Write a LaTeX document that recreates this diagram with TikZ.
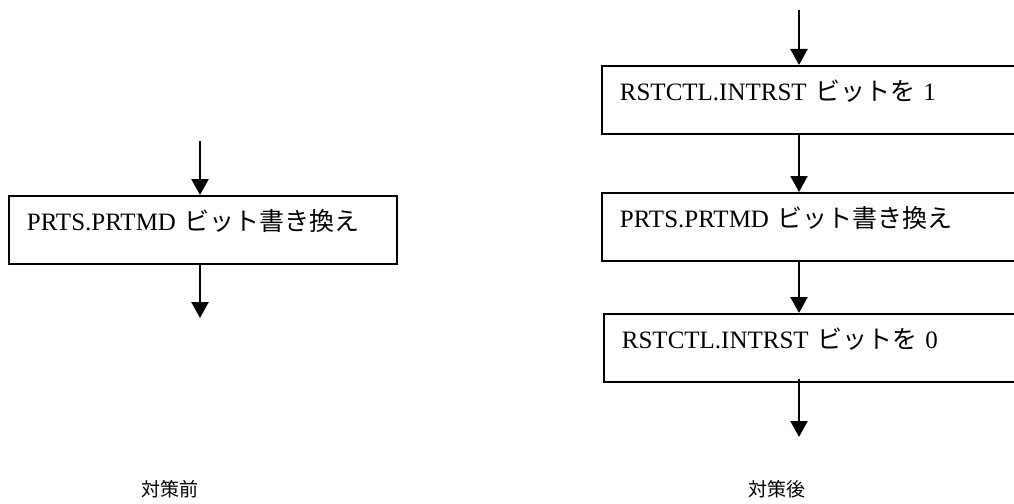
\documentclass[tikz,border=0pt]{standalone}
\usepackage{fontspec}
\setmainfont{Liberation Serif}
\newfontfamily\jp{Noto Sans CJK JP}
\usetikzlibrary{arrows.meta}
\tikzset{
  stepbox/.style={draw, line width=1.8pt, anchor=north west, align=left,
    inner xsep=18pt, inner ysep=0pt, text height=35pt, text depth=33pt,
    font=\fontsize{25}{28}\selectfont},
  flow/.style={line width=2.5pt, -{Triangle[length=16pt,width=17pt]}},
  caption/.style={font=\jp\fontsize{19}{22}\selectfont}
}
\begin{document}
\begin{tikzpicture}[x=1pt,y=-1pt]
\useasboundingbox (0,0) rectangle (1014,503);
\clip (0,0) rectangle (1014,503);
% left: before
\coordinate (L0) at (200,141);
\node[stepbox, text width=352pt] (L) at (8,195) {PRTS.PRTMD {\jp ビット書き換え}};
\coordinate (L1) at (200,318);
\draw[flow] (L0) -- (L0 |- L.north);
\draw[flow] ([yshift=2pt]L0 |- L.south) -- (L1);
\node[caption] (capL) at (170,489) {対策前};
% right: after
\coordinate (R0) at (799,10);
\node[stepbox, text width=384pt] (R1) at (601,65) {RSTCTL.INTRST {\jp ビットを} 1};
\node[stepbox, text width=384pt] (R2) at (601,192) {PRTS.PRTMD {\jp ビット書き換え}};
\node[stepbox, text width=382pt] (R3) at (603,313) {RSTCTL.INTRST {\jp ビットを} 0};
\coordinate (R4) at (799,437);
\draw[flow] (R0) -- (R0 |- R1.north);
\draw[flow] (R0 |- R1.south) -- (R0 |- R2.north);
\draw[flow] (R0 |- R2.south) -- (R0 |- R3.north);
\draw[flow] ([yshift=4pt]R0 |- R3.south) -- (R4);
\node[caption] (capR) at (777,489) {対策後};
\end{tikzpicture}
\end{document}
